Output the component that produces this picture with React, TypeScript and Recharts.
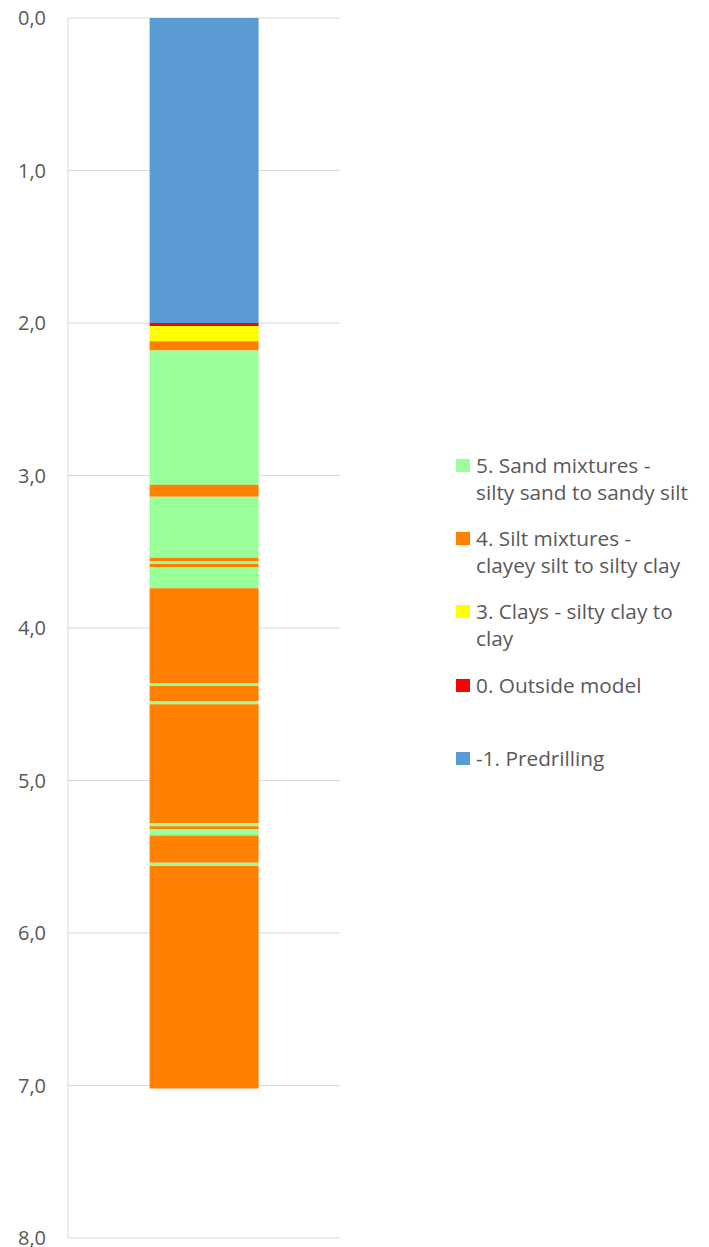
import React from 'react';
import { BarChart, Bar, XAxis, YAxis, CartesianGrid, Legend } from 'recharts';

// Soil behaviour type per layer, top to bottom, and depth (m) at the bottom of each layer
const layerCodes = [-1, 0, 3, 4, 5, 4, 5, 4, 5, 4, 5, 4, 5, 4, 5, 4, 5, 4, 5, 4, 5, 4];
const layerBottoms = [
    2.0, 2.02, 2.12, 2.18, 3.06, 3.14, 3.54, 3.56, 3.58, 3.6, 3.74,
    4.36, 4.38, 4.48, 4.5, 5.28, 5.3, 5.32, 5.36, 5.54, 5.56, 7.02,
];

const depthTicks = [0, 1, 2, 3, 4, 5, 6, 7, 8];

const soilColors: Record<number, string> = {
    5: '#99FF99',
    4: '#FF7F00',
    3: '#FFFF00',
    0: '#FF0000',
    [-1]: '#5B9BD5',
};

const legendCodes = [5, 4, 3, 0, -1];
const legendLines = [
    ['5. Sand mixtures -', 'silty sand to sandy silt'],
    ['4. Silt mixtures -', 'clayey silt to silty clay'],
    ['3. Clays - silty clay to', 'clay'],
    ['0. Outside model'],
    ['-1. Predrilling'],
];

const FONT = '"Open Sans", sans-serif';
const TEXT = '#595959';
const GRID = '#D9D9D9';

// one row, one stacked segment per layer
const row: Record<string, number | string> = { name: 'CPT' };
layerBottoms.forEach((b, i) => {
    row[`l${i}`] = b - (i === 0 ? 0 : layerBottoms[i - 1]);
});
const data = [row];

const SoilLegend = () => (
    <div style={{ fontFamily: FONT, fontSize: 20.8, color: TEXT }}>
        {legendCodes.map((code, i) => (
            <div key={code} style={{ height: 73.2, display: 'flex', alignItems: 'flex-start' }}>
                <div
                    style={{
                        width: 14,
                        height: 13,
                        background: soilColors[code],
                        marginTop: 7,
                        marginRight: 6,
                        flexShrink: 0,
                    }}
                />
                <div style={{ lineHeight: '27px', whiteSpace: 'nowrap' }}>
                    {legendLines[i].map((l) => (
                        <div key={l}>{l}</div>
                    ))}
                </div>
            </div>
        ))}
    </div>
);

export default function App() {
    return (
        <div style={{ position: 'absolute', left: 0, top: 0, background: '#fff' }}>
            <BarChart
                width={709}
                height={1247}
                data={data}
                margin={{ top: 18, right: 369, bottom: 9, left: 0 }}
                barCategoryGap="30%"
            >
                <CartesianGrid vertical={false} stroke={GRID} />
                <XAxis dataKey="name" hide />
                <YAxis
                    type="number"
                    domain={[0, 8]}
                    ticks={depthTicks}
                    reversed
                    width={68}
                    interval={0}
                    axisLine={{ stroke: GRID }}
                    tickLine={false}
                    tickSize={6}
                    tickMargin={16}
                    tick={{ fill: TEXT, fontSize: 20, fontFamily: FONT }}
                    tickFormatter={(v: number) => v.toFixed(1).replace('.', ',')}
                />
                <YAxis
                    yAxisId="right"
                    orientation="right"
                    type="number"
                    domain={[0, 8]}
                    reversed
                    width={0}
                    tick={false}
                    tickLine={false}
                    axisLine={{ stroke: GRID }}
                />
                <Legend
                    layout="vertical"
                    align="center"
                    verticalAlign="middle"
                    content={() => <SoilLegend />}
                    wrapperStyle={{ left: 456, top: 452, width: 250 }}
                />
                {layerCodes.map((code, i) => (
                    <Bar
                        key={i}
                        dataKey={`l${i}`}
                        stackId="depth"
                        fill={soilColors[code]}
                        isAnimationActive={false}
                    />
                ))}
            </BarChart>
        </div>
    );
}
